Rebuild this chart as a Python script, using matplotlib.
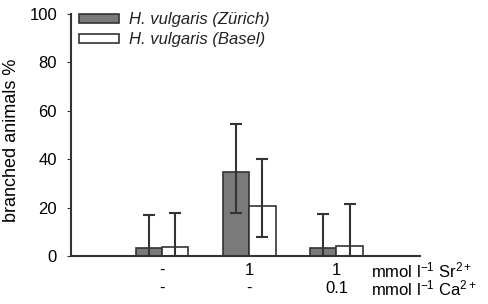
import matplotlib
matplotlib.use('Agg')
import matplotlib.pyplot as plt
import numpy as np

plt.rcParams['font.family'] = ['Liberation Sans', 'DejaVu Sans']
plt.rcParams['mathtext.fontset'] = 'custom'
plt.rcParams['mathtext.rm'] = 'Liberation Sans'
plt.rcParams['mathtext.it'] = 'Liberation Sans:italic'

# data
sr_labels = ['-', '1', '1']
ca_labels = ['-', '-', '0.1']
zurich = [3.4, 34.8, 3.2]
zurich_lo = [3.4, 16.9, 3.2]
zurich_hi = [13.6, 19.7, 14.0]
basel = [3.7, 20.8, 4.3]
basel_lo = [3.7, 12.8, 4.3]
basel_hi = [14.2, 19.2, 17.2]

fig = plt.figure(figsize=(4.88, 3.04), dpi=100)
ax = fig.add_axes([71/488, 1 - 256/304, (420 - 71)/488, (256 - 14)/304])

x = np.arange(1, len(zurich) + 1)
w = 0.3
err_kw = dict(ecolor='#333333', elinewidth=1.5, capsize=4, capthick=1.5)
ax.bar(x - w/2, zurich, w, color='#7a7a7a', edgecolor='#333333', linewidth=1.2,
       yerr=[zurich_lo, zurich_hi], error_kw=err_kw, label='H. vulgaris (Zürich)')
ax.bar(x + w/2, basel, w, color='white', edgecolor='#333333', linewidth=1.2,
       yerr=[basel_lo, basel_hi], error_kw=err_kw, label='H. vulgaris (Basel)')

ax.set_xlim(-0.05, 3.96)
ax.set_ylim(0, 100)
ax.set_yticks([0, 20, 40, 60, 80, 100])
ax.tick_params(axis='y', labelsize=12, direction='out', length=3, color='#333333', pad=7)
ax.set_xticks([])
for s in ['top', 'right']:
    ax.spines[s].set_visible(False)
for s in ['left', 'bottom']:
    ax.spines[s].set_color('#333333')
    ax.spines[s].set_linewidth(1.5)

ax.set_ylabel('branched animals %', fontsize=13)
ax.yaxis.set_label_coords(-51/349, (256 - 140)/242)

for xi, a, b in zip(x, sr_labels, ca_labels):
    ax.text(xi, -6, a, ha='center', va='center', fontsize=12)
    ax.text(xi, -13.5, b, ha='center', va='center', fontsize=12)
ax.text(3.4, -6, r'mmol l$^{\mathrm{-1}}$ Sr$^{\mathrm{2+}}$', ha='left', va='center', fontsize=12)
ax.text(3.4, -13.5, r'mmol l$^{\mathrm{-1}}$ Ca$^{\mathrm{2+}}$', ha='left', va='center', fontsize=12)

leg = ax.legend(loc='upper left', bbox_to_anchor=(0.005, 1.035), frameon=False,
                prop={'style': 'italic', 'size': 12}, handlelength=2.4,
                handleheight=0.5, handletextpad=0.6, labelspacing=0.3,
                borderaxespad=0)
for t in leg.get_texts():
    t.set_color('#222222')

fig.savefig('out.png', dpi=100)
